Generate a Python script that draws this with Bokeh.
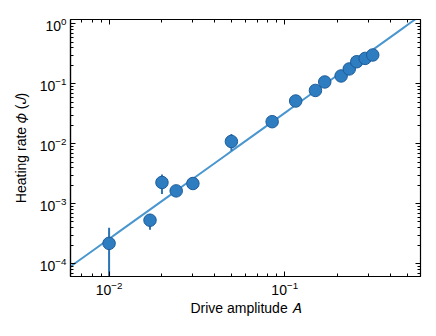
import numpy as np
from bokeh.plotting import figure
from bokeh.models import LogAxis, FixedTicker, Range1d, ColumnDataSource
from bokeh.embed import file_html
from bokeh.resources import INLINE

# Data
amplitude = [0.0100, 0.0171, 0.0200, 0.0241, 0.0300, 0.0497, 0.0848, 0.1155,
             0.1496, 0.169, 0.2095, 0.233, 0.257, 0.287, 0.317]
heating = [2.2e-4, 5.35e-4, 2.28e-3, 1.65e-3, 2.19e-3, 1.1e-2, 2.35e-2, 5.2e-2,
           7.8e-2, 0.108, 0.136, 0.178, 0.235, 0.267, 0.304]
err_low = [1.0e-6, 3.7e-4, 1.47e-3, 1.55e-3, 2.05e-3, 7.7e-3, 2.2e-2, 4.9e-2,
           7.4e-2, 0.103, 0.129, 0.170, 0.225, 0.257, 0.294]
err_high = [4.0e-4, 6.8e-4, 3.1e-3, 1.75e-3, 2.33e-3, 1.47e-2, 2.5e-2, 5.5e-2,
            8.2e-2, 0.113, 0.143, 0.186, 0.245, 0.277, 0.314]
fit_prefactor = 4.14
fit_exponent = 2.1
fit_xrange = [0.005, 0.7]

x_major = [0.001, 0.01, 0.1, 1.0]
y_major = [1e-5, 1e-4, 1e-3, 1e-2, 1e-1, 1.0]

x_range = (0.00603, 0.593)
y_range = (10 ** -4.21, 10 ** 0.075)


def minors(majors):
    return [m * k for m in majors for k in range(2, 10)]


def xt():
    return FixedTicker(ticks=x_major, minor_ticks=minors(x_major))


def yt():
    return FixedTicker(ticks=y_major, minor_ticks=minors(y_major))


p = figure(width=428, height=328, x_axis_type="log", y_axis_type="log",
           x_range=Range1d(*x_range), y_range=Range1d(*y_range),
           output_backend="svg", toolbar_location=None,
           min_border_left=70, min_border_right=8, min_border_top=19, min_border_bottom=52)
p.grid.visible = False
p.outline_line_color = "black"
p.outline_line_width = 1.2
p.background_fill_color = "white"
p.border_fill_color = "white"

fx = np.logspace(np.log10(fit_xrange[0]), np.log10(fit_xrange[1]), 50)
fy = fit_prefactor * fx ** fit_exponent
p.line(fx, fy, line_color="#4a96cf", line_width=2)

src = ColumnDataSource(dict(x=amplitude, y=heating, lo=err_low, hi=err_high))
p.segment(x0="x", y0="lo", x1="x", y1="hi", source=src, line_color="#2c74b5", line_width=2)
p.scatter(x="x", y="y", source=src, size=12.5, fill_color="#2e7dc1",
          line_color="#1d5c9a", line_width=1)

p.xaxis[0].ticker = xt()
p.yaxis[0].ticker = yt()

font = "Liberation Sans"
for ax in [p.xaxis[0], p.yaxis[0]]:
    ax.major_tick_in = 5
    ax.major_tick_out = 0
    ax.minor_tick_in = 3
    ax.minor_tick_out = 0
    ax.major_label_text_font = font
    ax.major_label_text_font_size = "14px"
    ax.major_label_text_color = "black"
    ax.axis_line_color = "black"
    ax.axis_line_width = 1.2
    ax.major_tick_line_color = "black"
    ax.minor_tick_line_color = "black"
    ax.axis_label_text_font = font
    ax.axis_label_text_font_size = "14px"
    ax.axis_label_text_font_style = "normal"
    ax.axis_label_text_color = "black"

p.xaxis[0].axis_label = "Drive amplitude \U0001D434"
p.yaxis[0].axis_label = "Heating rate \U0001D719 (\U0001D43D)"
p.xaxis[0].major_label_standoff = 4
p.yaxis[0].major_label_standoff = 4
p.xaxis[0].axis_label_standoff = 2
p.yaxis[0].axis_label_standoff = 8

for loc, tk in [("above", xt()), ("right", yt())]:
    ax = LogAxis(ticker=tk, major_label_text_font_size="0px",
                 major_tick_in=5, major_tick_out=0, minor_tick_in=3, minor_tick_out=0,
                 axis_line_color="black", major_label_standoff=0)
    ax.major_label_text_alpha = 0
    p.add_layout(ax, loc)

open("out.html", "w").write(file_html(p, INLINE))
